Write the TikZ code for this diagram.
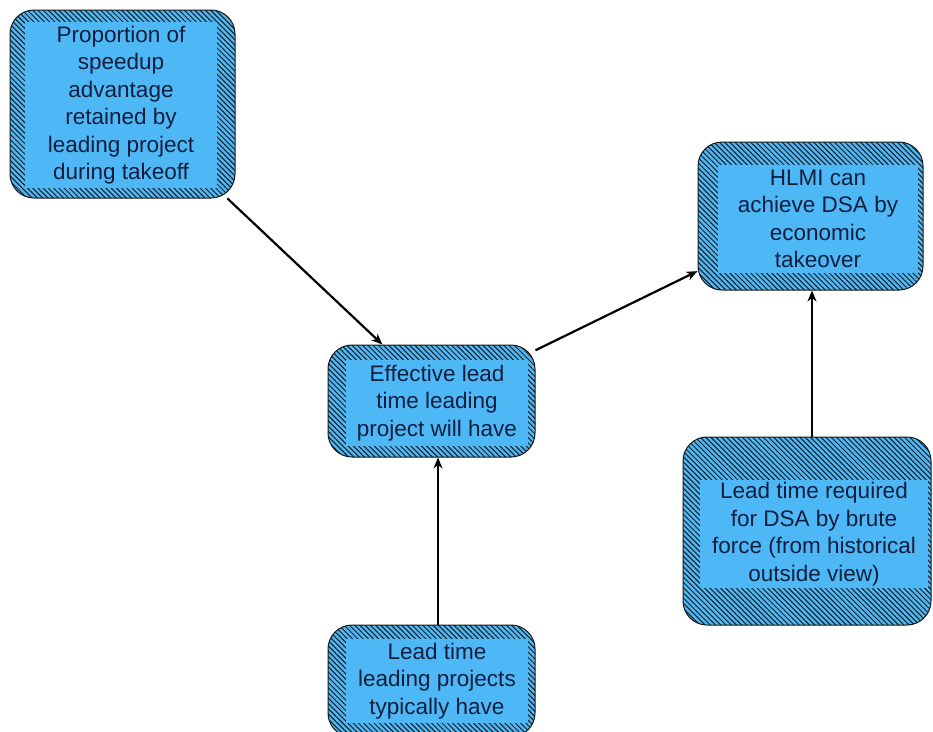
\documentclass[tikz,border=0pt]{standalone}
\usepackage{fontspec}
\setmainfont{Liberation Sans}
\usetikzlibrary{patterns.meta,arrows.meta}
\definecolor{boxblue}{RGB}{78,184,246}
\definecolor{txtcol}{RGB}{16,30,62}
\begin{document}
\begin{tikzpicture}[x=1pt,y=-1pt,
  outer/.style={draw=black!90, line width=1pt, rounded corners=24pt,
    preaction={fill=boxblue},
    pattern={Lines[angle=-45,distance=3.7pt,line width=1pt]}, pattern color=black!90,
    inner sep=0pt},
  txt/.style={fill=boxblue, align=center, text=txtcol, inner sep=0pt,
    font=\fontsize{22.5}{27.5}\selectfont},
  arr/.style={-{Stealth[length=11pt,width=9pt]}, line width=2.2pt, black}]
\useasboundingbox (0,0) rectangle (933,731);
\fill[white] (0,0) rectangle (933,731);
% boxes
\node[outer, minimum width=225pt, minimum height=188pt] (p) at (122.5,104) {};
\node[txt, minimum width=192pt, minimum height=166pt] (pt) at (121,105)
  {Proportion of\\speedup\\advantage\\retained by\\leading project\\during takeoff};
\node[outer, minimum width=207pt, minimum height=112pt] (e) at (431.5,401) {};
\node[txt, minimum width=182pt, minimum height=86pt] (et) at (437,403)
  {Effective lead\\time leading\\project will have};
\node[outer, minimum width=225pt, minimum height=148pt] (h) at (810.5,216) {};
\node[txt, minimum width=200pt, minimum height=108pt] (ht) at (818,219)
  {HLMI can\\achieve DSA by\\economic\\takeover};
\node[outer, minimum width=248pt, minimum height=188pt] (l) at (807,531) {};
\node[txt, minimum width=228pt, minimum height=108pt] (lt) at (814,534)
  {Lead time required\\for DSA by brute\\force (from historical\\outside view)};
\node[outer, minimum width=207pt, minimum height=112pt] (b) at (431.5,681) {};
\node[txt, minimum width=182pt, minimum height=84pt] (bt) at (437,681)
  {Lead time\\leading projects\\typically have};
% connectors
\draw[arr] (p.-42) -- (e.131);
\draw[arr] (e.26) -- (h.206);
\draw[arr] ([xshift=6.5pt]b.north) -- ([xshift=6.5pt]e.south);
\draw[arr] ([xshift=5pt]l.north) -- ([xshift=1.5pt]h.south);
\end{tikzpicture}
\end{document}
